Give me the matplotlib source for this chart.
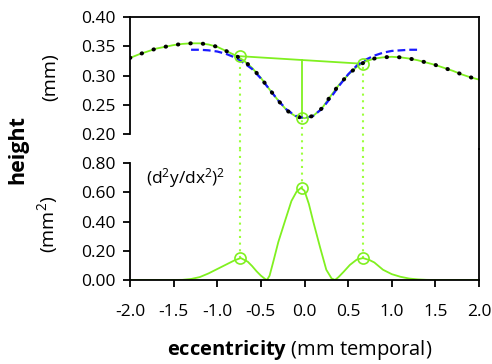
import matplotlib
matplotlib.use("Agg")
import matplotlib.pyplot as plt
import numpy as np

plt.rcParams['font.family'] = ['Open Sans', 'DejaVu Sans']
plt.rcParams['mathtext.fontset'] = 'custom'
plt.rcParams['mathtext.rm'] = 'Open Sans'
plt.rcParams['mathtext.bf'] = 'Open Sans:bold'
plt.rcParams['mathtext.it'] = 'Open Sans:italic'

# ---- data ----
x_profile = [-2.0, -1.9, -1.8, -1.7, -1.6, -1.5, -1.4, -1.3, -1.2, -1.1, -1.0,
             -0.9, -0.8, -0.7, -0.6, -0.5, -0.4, -0.3, -0.2, -0.1, 0.0,
             0.1, 0.2, 0.3, 0.4, 0.5, 0.6, 0.7, 0.8, 0.9, 1.0,
             1.1, 1.2, 1.3, 1.4, 1.5, 1.6, 1.7, 1.8, 1.9, 2.0]
height_profile = [0.330, 0.336, 0.341, 0.346, 0.349, 0.352, 0.354, 0.355, 0.355, 0.353, 0.349,
                  0.342, 0.335, 0.326, 0.313, 0.296, 0.276, 0.257, 0.240, 0.230, 0.227,
                  0.231, 0.244, 0.265, 0.285, 0.301, 0.315, 0.324, 0.329, 0.331, 0.332,
                  0.331, 0.329, 0.326, 0.322, 0.318, 0.313, 0.308, 0.302, 0.297, 0.293]

x_fit = [-1.3, -1.2, -1.1, -1.0, -0.9, -0.8, -0.7, -0.6, -0.5, -0.4, -0.3, -0.2, -0.1, 0.0,
         0.1, 0.2, 0.3, 0.4, 0.5, 0.6, 0.7, 0.8, 0.9, 1.0, 1.1, 1.2, 1.3]
height_fit = [0.344, 0.344, 0.343, 0.341, 0.337, 0.331, 0.322, 0.311, 0.295, 0.276, 0.257,
              0.241, 0.231, 0.227, 0.231, 0.243, 0.262, 0.283, 0.302, 0.317, 0.327,
              0.334, 0.339, 0.342, 0.343, 0.344, 0.344]

x_curv = [-2.0, -1.8, -1.6, -1.4, -1.3, -1.2, -1.1, -1.0, -0.9, -0.8, -0.73, -0.65, -0.6,
          -0.55, -0.5, -0.45, -0.43, -0.4, -0.36, -0.3, -0.22, -0.15, -0.09, -0.04, 0.0, 0.05,
          0.1, 0.18, 0.25, 0.31, 0.35, 0.39, 0.45, 0.52, 0.6, 0.67, 0.75, 0.8, 0.9,
          1.0, 1.1, 1.2, 1.3, 1.4, 1.5, 1.7, 2.0]
sq_curv = [0.0, 0.0, 0.0, 0.001, 0.007, 0.02, 0.045, 0.075, 0.105, 0.135, 0.150, 0.125, 0.095,
           0.06, 0.03, 0.006, 0.0, 0.03, 0.12, 0.26, 0.41, 0.54, 0.605, 0.63, 0.61, 0.52,
           0.40, 0.22, 0.07, 0.011, 0.0, 0.02, 0.057, 0.103, 0.14, 0.150, 0.135, 0.12, 0.07,
           0.04, 0.022, 0.01, 0.004, 0.001, 0.0, 0.0, 0.0]

peak_x = [-0.74, -0.03, 0.675]
peak_height = [0.333, 0.227, 0.320]
peak_curv = [0.15, 0.63, 0.15]

xticks = [-2.0, -1.5, -1.0, -0.5, 0.0, 0.5, 1.0, 1.5, 2.0]
top_yticks = [0.20, 0.25, 0.30, 0.35, 0.40]
bot_yticks = [0.00, 0.20, 0.40, 0.60, 0.80]

GREEN = '#80f020'
GREEN_DOT = '#9cff3c'
BLUE = '#1a1aff'
LW_SPINE = 1.3

W, H = 492, 364
fig = plt.figure(figsize=(W / 100, H / 100), dpi=100)
left = 130 / W
width = 349 / W
ax_top = fig.add_axes([left, (H - 148.5) / H, width, 131.5 / H])
ax_bot = fig.add_axes([left, (H - 280) / H, width, 131.5 / H])

# top panel
ax_top.set_xlim(-2.0, 2.0)
ax_top.set_ylim(0.2 - 14.5 / 585, 0.40)
ax_top.plot(x_profile, height_profile, color=GREEN, lw=1.3, zorder=2)
ax_top.plot(x_fit, height_fit, color=BLUE, lw=1.6, dashes=(3.5, 1.8), zorder=3)
ax_top.plot(x_profile, height_profile, color='black', lw=2.9, ls=(0, (0.1, 3.0)),
            dash_capstyle='round', zorder=4)
# chord and depth line
ax_top.plot([peak_x[0], peak_x[2]], [peak_height[0], peak_height[2]], color=GREEN, lw=1.3, zorder=2)
chord_mid = np.interp(peak_x[1], [peak_x[0], peak_x[2]], [peak_height[0], peak_height[2]])
ax_top.plot([peak_x[1], peak_x[1]], [chord_mid, peak_height[1]], color=GREEN, lw=1.3, zorder=2)
ylo = ax_top.get_ylim()[0]
for px, py in zip(peak_x, peak_height):
    ax_top.plot([px, px], [ylo, py], color=GREEN_DOT, lw=1.5, ls=(0, (1, 2.2)), zorder=1,
                clip_on=False)
ax_top.plot(peak_x, peak_height, 'o', mfc='none', mec=GREEN, mew=1.2, ms=8, zorder=5)

ax_top.set_yticks(top_yticks)
ax_top.set_yticklabels([f"{v:.2f}" for v in top_yticks])
ax_top.set_xticks([])
ax_top.spines['bottom'].set_visible(False)
ax_top.spines['left'].set_bounds(0.20, 0.40)
for s in ['left', 'top', 'right']:
    ax_top.spines[s].set_linewidth(LW_SPINE)

# bottom panel
ax_bot.set_xlim(-2.0, 2.0)
ax_bot.set_ylim(0.0, 131.5 * 0.8 / 117)
ax_bot.plot(x_curv, sq_curv, color=GREEN, lw=1.3, zorder=2)
yhi = ax_bot.get_ylim()[1]
for px, py in zip(peak_x, peak_curv):
    ax_bot.plot([px, px], [py, yhi], color=GREEN_DOT, lw=1.5, ls=(0, (1, 2.2)), zorder=1,
                clip_on=False)
ax_bot.plot(peak_x, peak_curv, 'o', mfc='none', mec=GREEN, mew=1.2, ms=8, zorder=5)
ax_bot.set_yticks(bot_yticks)
ax_bot.set_yticklabels([f"{v:.2f}" for v in bot_yticks])
ax_bot.set_xticks(xticks)
ax_bot.set_xticklabels([f"{v:.1f}" for v in xticks])
ax_bot.spines['top'].set_visible(False)
ax_bot.spines['left'].set_bounds(0.0, 0.80)
for s in ['left', 'bottom', 'right']:
    ax_bot.spines[s].set_linewidth(LW_SPINE)

for ax in (ax_top, ax_bot):
    ax.tick_params(direction='out', length=5, width=LW_SPINE, labelsize=12.5, pad=5,
                   colors='black')
    ax.patch.set_visible(False)
ax_bot.tick_params(axis='x', pad=12)
ax_top.set_zorder(2)

ax_bot.text(0.045, (280 - 178) / 131.5, r"(d$^2$y/dx$^2$)$^2$", transform=ax_bot.transAxes,
            fontsize=12.5, ha='left', va='center')

fig.text(18 / W, 1 - 150 / H, "height", rotation=90, fontsize=15.5, fontweight='bold',
         ha='center', va='center')
fig.text(50 / W, 1 - 77 / H, "(mm)", rotation=90, fontsize=14, ha='center', va='center')
fig.text(48 / W, 1 - 224 / H, r"(mm$^2$)", rotation=90, fontsize=14, ha='center', va='center')
fig.text(300 / W, 1 - 350 / H, r"$\mathbf{eccentricity}$ (mm temporal)", fontsize=14.5,
         ha='center', va='center')

fig.savefig("out.png", dpi=100)
